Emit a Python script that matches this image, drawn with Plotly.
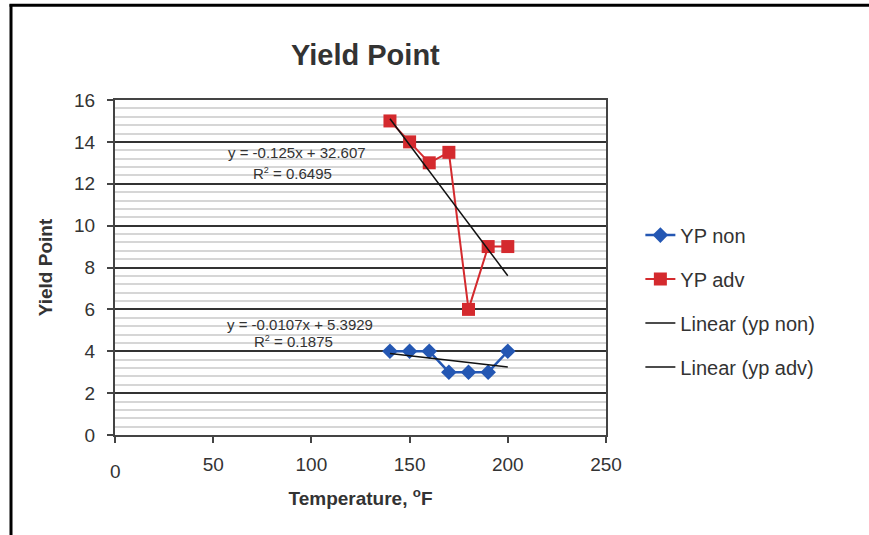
import numpy as np
import plotly.graph_objects as go

temps = [140, 150, 160, 170, 180, 190, 200]
yp_non = [4, 4, 4, 3, 3, 3, 4]
yp_adv = [15, 14, 13, 13.5, 6, 9, 9]

SUP2 = "<sup><span style='font-size:9px'>2</span></sup>"
eq_non = ["y = -0.0107x + 5.3929", "R" + SUP2 + " = 0.1875"]
eq_adv = ["y = -0.125x + 32.607", "R" + SUP2 + " = 0.6495"]

x_ticks = [0, 50, 100, 150, 200, 250]
y_minor = [round(0.4 * i, 1) for i in range(41) if i % 5 != 0]

FONT = "Liberation Sans, Arial, sans-serif"
TXT = "#333333"

t = np.array(temps, dtype=float)
fit_non = np.polyfit(t, np.array(yp_non, dtype=float), 1)
fit_adv = np.polyfit(t, np.array(yp_adv, dtype=float), 1)
tx = np.array([min(temps), max(temps)], dtype=float)

fig = go.Figure()
fig.add_trace(go.Scatter(
    x=temps, y=yp_non, name="YP non", mode="lines+markers", legendgroup="a",
    line=dict(color="#2457b3", width=2.5),
    marker=dict(symbol="diamond", size=12, color="#2457b3")))
fig.add_trace(go.Scatter(
    x=temps, y=yp_adv, name="YP adv", mode="lines+markers", legendgroup="b",
    line=dict(color="#d42a2e", width=2),
    marker=dict(symbol="square", size=13, color="#d42a2e")))
fig.add_trace(go.Scatter(
    x=tx, y=np.polyval(fit_non, tx), name="Linear (yp non)", mode="lines", legendgroup="c",
    line=dict(color="#111111", width=1.5)))
fig.add_trace(go.Scatter(
    x=tx, y=np.polyval(fit_adv, tx), name="Linear (yp adv)", mode="lines", legendgroup="d",
    line=dict(color="#111111", width=1.5)))

annots = []
for txt, xv, yv in [(eq_adv[0], 92.5, 13.5), (eq_adv[1], 90.6, 12.5),
                    (eq_non[0], 94.2, 5.3), (eq_non[1], 90.9, 4.45)]:
    annots.append(dict(x=xv, y=yv, xref="x", yref="y", text=txt, showarrow=False,
                       font=dict(family=FONT, size=15, color=TXT)))
# lone "0" tick label sits lower in the reference
annots.append(dict(x=0, y=0, xref="x", yref="paper", text="0", showarrow=False,
                   yanchor="top", yshift=-24, font=dict(family=FONT, size=19, color=TXT)))
annots.append(dict(x=0.51, y=1.134, xref="paper", yref="paper", text="<b>Yield Point</b>",
                   showarrow=False, yanchor="middle",
                   font=dict(family=FONT, size=29, color=TXT)))

shapes = [
    dict(type="line", xref="paper", yref="paper", x0=-0.2118, x1=-0.2118, y0=1.286, y1=-0.31,
         line=dict(color="black", width=3)),
    dict(type="line", xref="paper", yref="paper", x0=-0.2148, x1=1.54, y0=1.283, y1=1.283,
         line=dict(color="black", width=3)),
]

fig.update_layout(
    width=869, height=535,
    margin=dict(l=115, r=263, t=100, b=100),
    paper_bgcolor="white", plot_bgcolor="white",
    font=dict(family=FONT, color=TXT),
    showlegend=True,
    legend=dict(x=1.07, y=0.655, xanchor="left", yanchor="top",
                font=dict(family=FONT, size=20, color=TXT),
                tracegroupgap=15, bgcolor="rgba(0,0,0,0)"),
    annotations=annots,
    shapes=shapes,
)
fig.update_xaxes(
    range=[0, 250], tickvals=x_ticks, ticktext=[""] + [str(v) for v in x_ticks[1:]],
    showgrid=False, zeroline=False,
    showline=True, linecolor="#444444", linewidth=2, mirror=True,
    ticks="outside", ticklen=6, tickcolor="#444444", tickwidth=1.5,
    ticklabelstandoff=5,
    tickfont=dict(family=FONT, size=19, color=TXT),
    title=dict(text="<b>Temperature, <sup>o</sup>F</b>", font=dict(family=FONT, size=19, color=TXT),
               standoff=18),
)
fig.update_yaxes(
    range=[0, 16], tick0=0, dtick=2,
    showgrid=True, gridcolor="#333333", gridwidth=1.5, zeroline=False,
    showline=True, linecolor="#444444", linewidth=2, mirror=True,
    ticks="outside", ticklen=6, tickcolor="#444444", tickwidth=1.5,
    ticklabelstandoff=8,
    tickfont=dict(family=FONT, size=19, color=TXT),
    minor=dict(tickmode="array", tickvals=y_minor, showgrid=True, gridcolor="#d6d6d6",
               gridwidth=1.5, ticks=""),
    title=dict(text="<b>Yield Point</b>", font=dict(family=FONT, size=19, color=TXT), standoff=16),
)

fig.write_html("out.html")
